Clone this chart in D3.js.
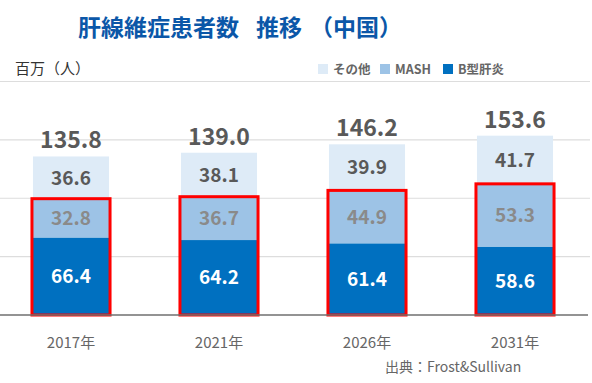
<!DOCTYPE html>
<html>
<head>
<meta charset="utf-8">
<script src="https://cdn.jsdelivr.net/npm/d3@7"></script>
<style>
  body { margin: 0; background: #fff; }
  svg { display: block; font-family: "Noto Sans CJK JP", "Noto Sans", sans-serif; }
</style>
</head>
<body>
<svg id="chart"></svg>
<script>
// データ
const years = ["2017年", "2021年", "2026年", "2031年"];
const hepB = [66.4, 64.2, 61.4, 58.6];
const mash = [32.8, 36.7, 44.9, 53.3];
const other = [36.6, 38.1, 39.9, 41.7];
const totals = [135.8, 139.0, 146.2, 153.6];
const seriesNames = ["その他", "MASH", "B型肝炎"];
const yTicks = [0, 50, 100, 150, 200];

const W = 592, H = 383;
const svg = d3.select("#chart").attr("width", W).attr("height", H);

const colors = { hepB: "#0070C0", mash: "#9DC3E6", other: "#DEEBF7" };

const x = d3.scaleBand().domain(years).range([-3, 589]).paddingInner(0.486).paddingOuter(0.243);
const y = d3.scaleLinear().domain([0, 200]).range([315, 81.5]);

// タイトル
svg.append("text")
   .attr("x", 78).attr("y", 36)
   .attr("fill", "#0B57A8")
   .attr("font-size", 23).attr("font-weight", 700)
   .text("肝線維症患者数")
   .append("tspan").attr("dx", 17).text("推移")
   .append("tspan").attr("dx", 8).text("（中国）");

// 単位
svg.append("text")
   .attr("x", 15).attr("y", 74)
   .attr("fill", "#333").attr("font-size", 15)
   .text("百万（人）");

// グリッド線
svg.append("g")
   .selectAll("line")
   .data(yTicks.slice(1))
   .enter().append("line")
   .attr("x1", 0).attr("x2", 590)
   .attr("y1", d => y(d)).attr("y2", d => y(d))
   .attr("stroke", "#dddddd").attr("stroke-width", 1.2);

// 積み上げデータ
const data = years.map((yr, i) => ({ year: yr, hepB: hepB[i], mash: mash[i], other: other[i], total: totals[i] }));
const stacked = d3.stack().keys(["hepB", "mash", "other"])(data);

const layers = svg.append("g").selectAll(".layer")
   .data(stacked)
   .enter().append("g")
   .attr("class", "layer")
   .attr("fill", d => colors[d.key]);

layers.selectAll("rect")
   .data(d => d)
   .enter().append("rect")
   .attr("x", d => x(d.data.year))
   .attr("y", d => y(d[1]))
   .attr("width", x.bandwidth())
   .attr("height", d => y(d[0]) - y(d[1]));

// ラベル
const labelColor = { hepB: "#ffffff", mash: "#8a8a8a", other: "#595959" };
stacked.forEach(layer => {
    svg.append("g").selectAll("text")
       .data(layer)
       .enter().append("text")
       .attr("x", d => x(d.data.year) + x.bandwidth() / 2)
       .attr("y", d => (y(d[0]) + y(d[1])) / 2)
       .attr("dy", "0.36em")
       .attr("text-anchor", "middle")
       .attr("font-size", 19).attr("font-weight", 700)
       .attr("fill", labelColor[layer.key])
       .text(d => d.data[layer.key].toFixed(1));
});

// 赤枠 (B型肝炎 + MASH)
svg.append("g").selectAll("rect")
   .data(data)
   .enter().append("rect")
   .attr("x", d => x(d.year) - 1)
   .attr("y", d => y(d.hepB + d.mash) - 0.5)
   .attr("width", x.bandwidth() + 2)
   .attr("height", d => y(0) - y(d.hepB + d.mash) + 0.5)
   .attr("fill", "none")
   .attr("stroke", "#FF0000").attr("stroke-width", 3);

// 合計
svg.append("g").selectAll("text")
   .data(data)
   .enter().append("text")
   .attr("x", d => x(d.year) + x.bandwidth() / 2)
   .attr("y", d => y(d.total) - 8)
   .attr("text-anchor", "middle")
   .attr("font-size", 23).attr("font-weight", 700)
   .attr("fill", "#595959")
   .text(d => d.total.toFixed(1));

// X軸
const xAxis = svg.append("g")
   .attr("transform", `translate(0,${y(0)})`)
   .call(d3.axisBottom(x).tickSize(0).tickPadding(22));
xAxis.select(".domain").remove();
xAxis.selectAll("text")
   .attr("font-family", "'Noto Sans CJK JP', sans-serif")
   .attr("font-size", 15).attr("fill", "#666666");
svg.append("line")
   .attr("x1", 0).attr("x2", 588)
   .attr("y1", y(0)).attr("y2", y(0))
   .attr("stroke", "#6f6f6f").attr("stroke-width", 1.5);

// 凡例
const legendItems = [
    { name: seriesNames[0], color: colors.other, x: 318 },
    { name: seriesNames[1], color: colors.mash, x: 380 },
    { name: seriesNames[2], color: colors.hepB, x: 443 }
];
const legend = svg.append("g").selectAll("g")
   .data(legendItems)
   .enter().append("g")
   .attr("transform", d => `translate(${d.x},64)`);
legend.append("rect").attr("width", 10).attr("height", 10).attr("fill", d => d.color);
legend.append("text")
   .attr("x", 15).attr("y", 10)
   .attr("font-size", 12.5).attr("font-weight", 700)
   .attr("fill", "#666666")
   .text(d => d.name);

// 出典
svg.append("text")
   .attr("x", 385).attr("y", 372)
   .attr("font-size", 14).attr("fill", "#666666")
   .text("出典：Frost&Sullivan");
</script>
</body>
</html>
